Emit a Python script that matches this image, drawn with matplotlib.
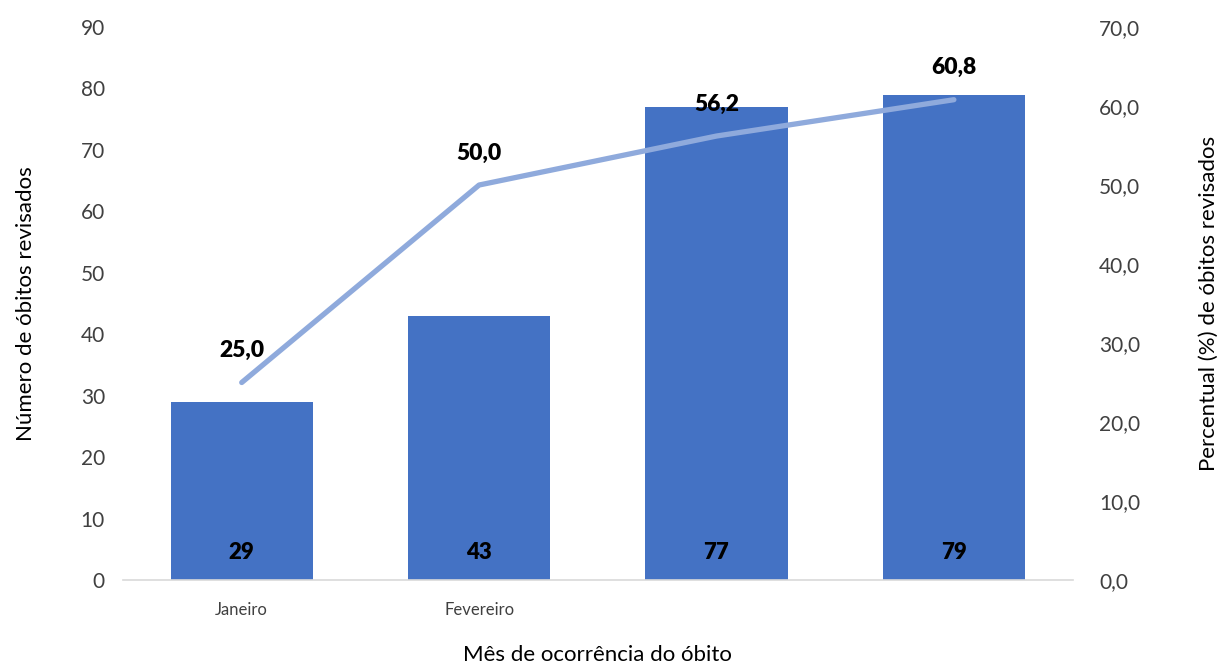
import matplotlib.pyplot as plt
import numpy as np

plt.rcParams["font.family"] = ["Lato", "DejaVu Sans"]

categories = ["Janeiro", "Fevereiro", "", ""]
obitos = [29, 43, 77, 79]
percentual = [25.0, 50.0, 56.2, 60.8]

BAR_COLOR = "#4472C4"
LINE_COLOR = "#8FAADC"
TEXT_COLOR = "#404040"

fig = plt.figure(figsize=(12.23, 6.64), dpi=100)
ax = fig.add_axes([0.1006, 0.1265, 0.7764, 0.8328])
ax2 = ax.twinx()

x = np.arange(len(categories))
ax.bar(x, obitos, width=0.6, color=BAR_COLOR, zorder=2)
for xi, v in zip(x, obitos):
    ax.text(xi, 4.4, f"{v}", ha="center", va="center", fontsize=16,
            fontweight="heavy", color="black", zorder=3)

ax.set_xlim(-0.5, len(categories) - 0.5)
ax.set_ylim(0, 90)
ax.set_yticks(np.arange(0, 91, 10))
ax.set_xticks(x)
ax.set_xticklabels(categories, fontsize=12, color=TEXT_COLOR)
ax.tick_params(axis="y", labelsize=15, colors=TEXT_COLOR, length=0, pad=13)
ax.tick_params(axis="x", length=0, pad=16)
ax.set_ylabel("Número de óbitos revisados", fontsize=16, color="black", labelpad=32)
ax.set_xlabel("Mês de ocorrência do óbito", fontsize=16, color="black", labelpad=19)

for side in ["top", "left", "right"]:
    ax.spines[side].set_visible(False)
    ax2.spines[side].set_visible(False)
ax2.spines["bottom"].set_visible(False)
ax.spines["bottom"].set_color("#D9D9D9")
ax.spines["bottom"].set_linewidth(1.2)

ax2.plot(x, percentual, color=LINE_COLOR, linewidth=3.8, solid_capstyle="round", zorder=4)
ax2.set_ylim(0, 70)
ax2.set_yticks(np.arange(0, 71, 10))
ax2.set_yticklabels([f"{v:.1f}".replace(".", ",") for v in np.arange(0, 71, 10)])
ax2.tick_params(axis="y", labelsize=15, colors=TEXT_COLOR, length=0, pad=19)
ax2.set_ylabel("Percentual (%) de óbitos revisados", fontsize=16, color="black", labelpad=42)
for xi, v in zip(x, percentual):
    ax2.annotate(f"{v:.1f}".replace(".", ","), (xi, v), xytext=(0, 32),
                 textcoords="offset pixels", ha="center", va="center",
                 fontsize=16.5, fontweight="heavy", color="black", zorder=5)

ax2.set_zorder(ax.get_zorder() + 1)
ax2.patch.set_visible(False)

fig.savefig("out.png", dpi=100)
